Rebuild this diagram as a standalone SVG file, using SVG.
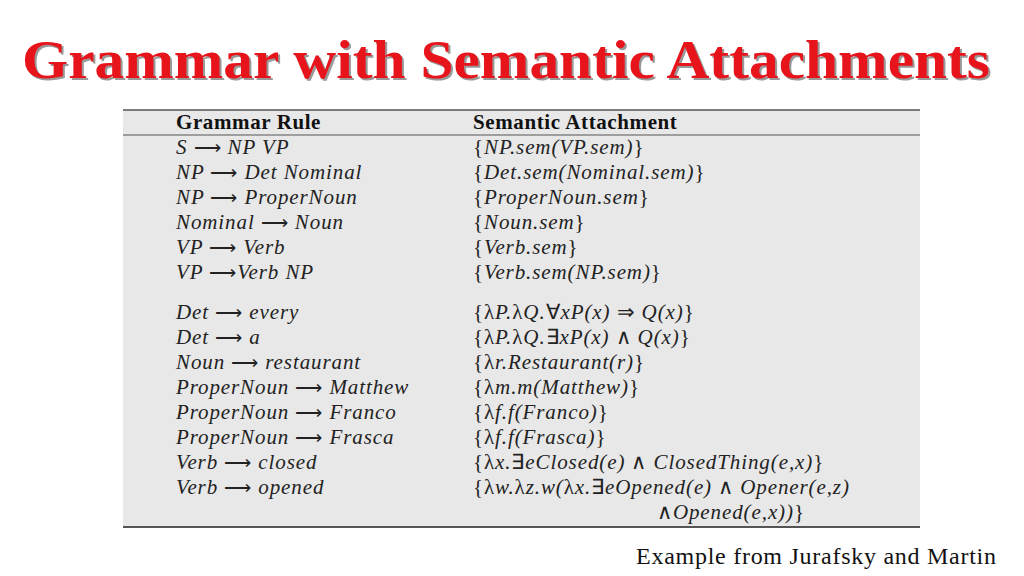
<svg xmlns="http://www.w3.org/2000/svg" width="1024" height="576" viewBox="0 0 1024 576">
<style>
.t{font-family:"Liberation Serif",serif;font-size:21px;font-style:italic;fill:#222;letter-spacing:0.9px}
.h{font-family:"Liberation Serif",serif;font-size:21px;font-weight:bold;fill:#111;letter-spacing:0.6px}
.r{font-style:normal}
.a{font-style:normal;font-size:19px}
</style>
<rect width="1024" height="576" fill="#fff"/>
<text x="22" y="78" textLength="968" lengthAdjust="spacingAndGlyphs" font-family="Liberation Serif,serif" font-size="54" font-weight="bold" fill="#999" transform="translate(2,2)">Grammar with Semantic Attachments</text>
<text x="22" y="78" textLength="968" lengthAdjust="spacingAndGlyphs" font-family="Liberation Serif,serif" font-size="54" font-weight="bold" fill="#e8141c">Grammar with Semantic Attachments</text>
<rect x="123" y="110" width="797" height="418" fill="#e8e8e8"/>
<line x1="123" y1="110" x2="920" y2="110" stroke="#555" stroke-width="1.5"/>
<line x1="123" y1="135" x2="920" y2="135" stroke="#555" stroke-width="1"/>
<line x1="123" y1="527" x2="920" y2="527" stroke="#555" stroke-width="2"/>
<text class="h" x="176" y="129">Grammar Rule</text>
<text class="h" x="473" y="129">Semantic Attachment</text>
<g class="t">
<text x="176" y="154">S <tspan class="a">⟶</tspan> NP VP</text>
<text x="176" y="179">NP <tspan class="a">⟶</tspan> Det Nominal</text>
<text x="176" y="204">NP <tspan class="a">⟶</tspan> ProperNoun</text>
<text x="176" y="229">Nominal <tspan class="a">⟶</tspan> Noun</text>
<text x="176" y="254">VP <tspan class="a">⟶</tspan> Verb</text>
<text x="176" y="279">VP <tspan class="a">⟶</tspan>Verb NP</text>
<text x="176" y="319">Det <tspan class="a">⟶</tspan> every</text>
<text x="176" y="344">Det <tspan class="a">⟶</tspan> a</text>
<text x="176" y="369">Noun <tspan class="a">⟶</tspan> restaurant</text>
<text x="176" y="394">ProperNoun <tspan class="a">⟶</tspan> Matthew</text>
<text x="176" y="419">ProperNoun <tspan class="a">⟶</tspan> Franco</text>
<text x="176" y="444">ProperNoun <tspan class="a">⟶</tspan> Frasca</text>
<text x="176" y="469">Verb <tspan class="a">⟶</tspan> closed</text>
<text x="176" y="494">Verb <tspan class="a">⟶</tspan> opened</text>
<text x="473" y="154"><tspan class="r">{</tspan>NP.sem(VP.sem)<tspan class="r">}</tspan></text>
<text x="473" y="179"><tspan class="r">{</tspan>Det.sem(Nominal.sem)<tspan class="r">}</tspan></text>
<text x="473" y="204"><tspan class="r">{</tspan>ProperNoun.sem<tspan class="r">}</tspan></text>
<text x="473" y="229"><tspan class="r">{</tspan>Noun.sem<tspan class="r">}</tspan></text>
<text x="473" y="254"><tspan class="r">{</tspan>Verb.sem<tspan class="r">}</tspan></text>
<text x="473" y="279"><tspan class="r">{</tspan>Verb.sem(NP.sem)<tspan class="r">}</tspan></text>
<text x="473" y="319"><tspan class="r">{λ</tspan>P.<tspan class="r">λ</tspan>Q.<tspan class="r">∀</tspan>xP(x) <tspan class="r">⇒</tspan> Q(x)<tspan class="r">}</tspan></text>
<text x="473" y="344"><tspan class="r">{λ</tspan>P.<tspan class="r">λ</tspan>Q.<tspan class="r">∃</tspan>xP(x) <tspan class="r">∧</tspan> Q(x)<tspan class="r">}</tspan></text>
<text x="473" y="369"><tspan class="r">{λ</tspan>r.Restaurant(r)<tspan class="r">}</tspan></text>
<text x="473" y="394"><tspan class="r">{λ</tspan>m.m(Matthew)<tspan class="r">}</tspan></text>
<text x="473" y="419"><tspan class="r">{λ</tspan>f.f(Franco)<tspan class="r">}</tspan></text>
<text x="473" y="444"><tspan class="r">{λ</tspan>f.f(Frasca)<tspan class="r">}</tspan></text>
<text x="473" y="469"><tspan class="r">{λ</tspan>x.<tspan class="r">∃</tspan>eClosed(e) <tspan class="r">∧</tspan> ClosedThing(e,x)<tspan class="r">}</tspan></text>
<text x="473" y="494"><tspan class="r">{λ</tspan>w.<tspan class="r">λ</tspan>z.w(<tspan class="r">λ</tspan>x.<tspan class="r">∃</tspan>eOpened(e) <tspan class="r">∧</tspan> Opener(e,z)</text>
<text x="657" y="519"><tspan class="r">∧</tspan>Opened(e,x))<tspan class="r">}</tspan></text>
</g>
<text x="636" y="564" textLength="360" font-family="Liberation Serif,serif" font-size="24" fill="#111">Example from Jurafsky and Martin</text>
</svg>
